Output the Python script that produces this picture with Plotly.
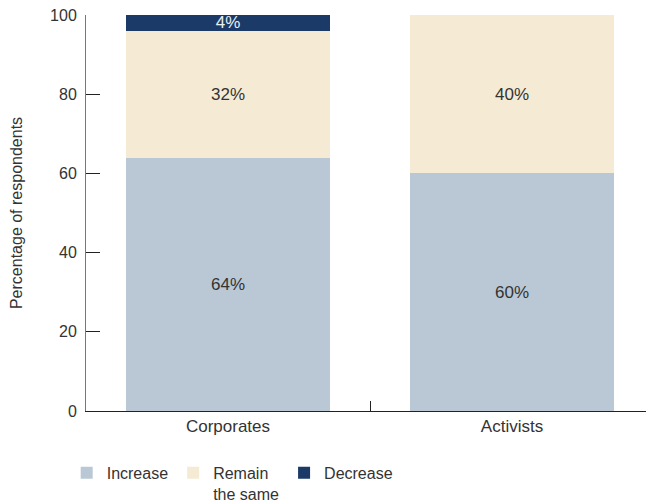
import plotly.graph_objects as go

categories = ["Corporates", "Activists"]
increase = [64, 60]
remain = [32, 40]
decrease = [4, 0]
series_names = ["Increase", "Remain<br>the same", "Decrease"]
colors = ["#BAC8D5", "#F5EBD5", "#1B3A67"]
text_colors = ["#333333", "#333333", "#E8EEF5"]
y_ticks = [0, 20, 40, 60, 80, 100]

FONT = "Liberation Sans"

fig = go.Figure()
for name, vals, col, tcol in zip(series_names, [increase, remain, decrease], colors, text_colors):
    fig.add_trace(go.Bar(
        x=categories, y=vals, name=name,
        marker=dict(color=col, line=dict(width=0)),
        text=[f"{v}%" if v > 0 else "" for v in vals],
        textposition="inside", insidetextanchor="middle",
        constraintext="none",
        textfont=dict(color=tcol, size=17, family=FONT),
        hoverinfo="skip",
    ))

# page body has an 8px default margin; figure is sized to fit the 654x503 window
fig.update_layout(
    barmode="stack",
    width=646, height=495,
    margin=dict(l=78, r=0, t=7, b=92, autoexpand=False),
    plot_bgcolor="white", paper_bgcolor="white",
    bargap=0.283,
    font=dict(family=FONT, size=16, color="#333333"),
    showlegend=True,
    legend=dict(
        orientation="h", x=-0.034, xanchor="left", y=-0.113, yanchor="top",
        traceorder="normal", font=dict(size=16, color="#333333"),
        itemwidth=30, valign="top",
    ),
    xaxis=dict(
        showline=True, linecolor="#222222", linewidth=1,
        ticks="inside", tickson="boundaries", ticklen=10, tickcolor="#222222",
        showgrid=False, tickfont=dict(size=17, color="#333333"),
        automargin=False,
    ),
    yaxis=dict(
        range=[0, 100], tickvals=y_ticks, showline=True, linecolor="#777777",
        linewidth=1, ticks="inside", ticklen=14, tickcolor="#222222",
        showgrid=False, zeroline=False, automargin=False,
        ticklabelstandoff=5, ticklabeloverflow="allow",
        title=dict(text="Percentage of respondents", font=dict(size=16, color="#333333"), standoff=31),
        tickfont=dict(size=16, color="#333333"),
    ),
)

fig.write_html("out.html")
